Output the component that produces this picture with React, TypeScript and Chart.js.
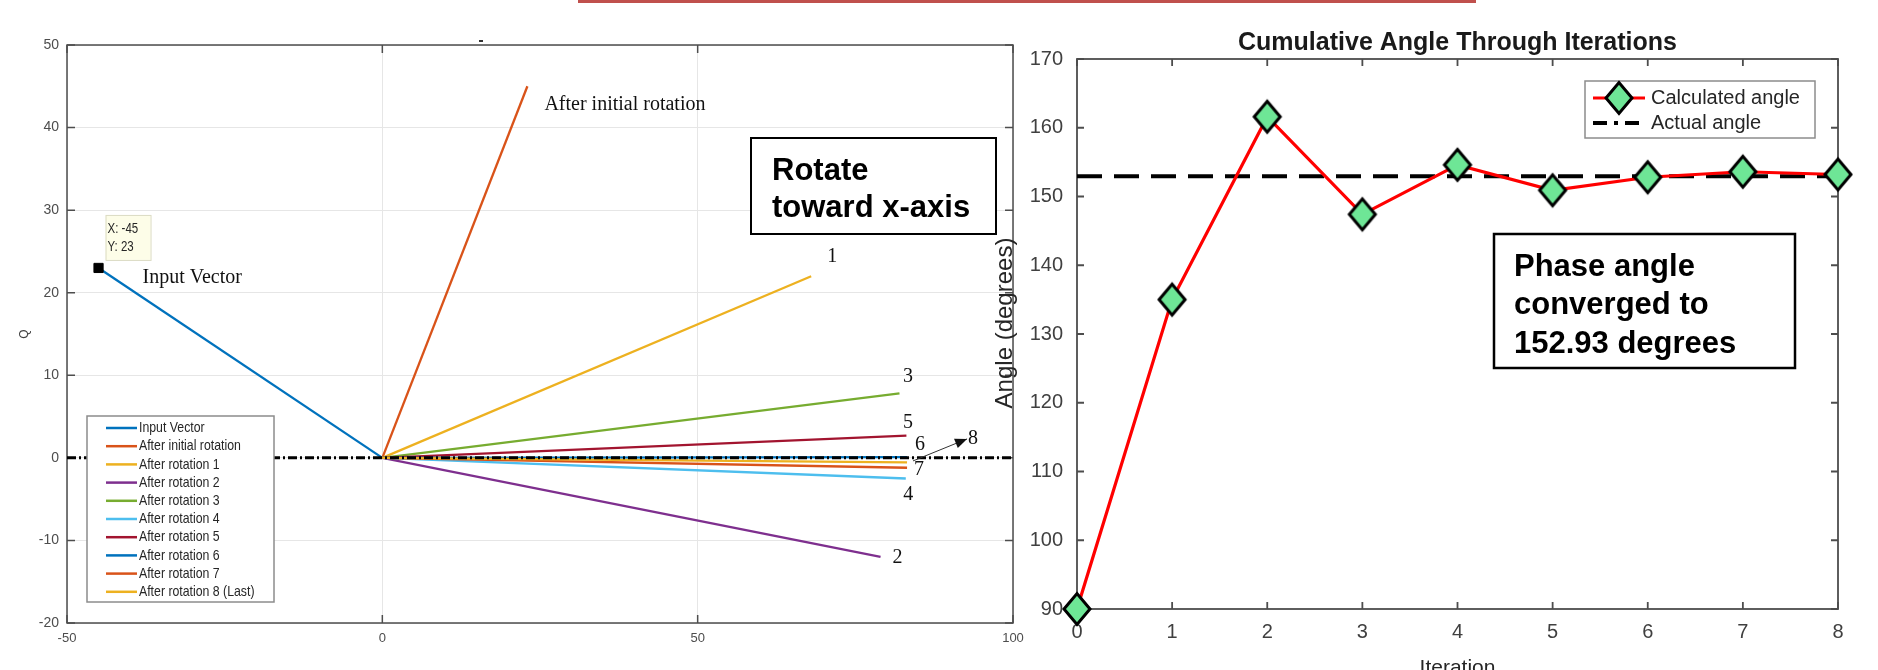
import React, { useEffect, useRef } from 'react';
import { Chart, registerables } from 'chart.js';

Chart.register(...registerables);

// ---------------- Left panel data (I/Q vectors) ----------------
const VECTOR_NAMES = [
  'Input Vector',
  'After initial rotation',
  'After rotation 1',
  'After rotation 2',
  'After rotation 3',
  'After rotation 4',
  'After rotation 5',
  'After rotation 6',
  'After rotation 7',
  'After rotation 8 (Last)',
];
const VECTOR_I = [-45, 23, 68, 79, 82, 83, 83.1, 83.2, 83.2, 83.2];
const VECTOR_Q = [23, 45, 22, -12, 7.8, -2.5, 2.7, 0.1, -1.2, -0.55];
const VECTOR_TAGS = ['Input Vector', 'After initial rotation', '1', '2', '3', '4', '5', '6', '7', '8'];
const I_TICKS = [-50, 0, 50, 100];
const Q_TICKS = [-20, -10, 0, 10, 20, 30, 40, 50];
const DATATIP_I = [-45];
const DATATIP_Q = [23];
const LEFT_NOTE = ['Rotate', 'toward x-axis'];

// ---------------- Right panel data (angle vs iteration) ----------------
const ITERATIONS = [0, 1, 2, 3, 4, 5, 6, 7, 8];
const CALCULATED_ANGLE = [90, 135, 161.6, 147.4, 154.6, 150.9, 152.8, 153.6, 153.2];
const ACTUAL_ANGLE = 152.93;
const ANGLE_TICKS = [90, 100, 110, 120, 130, 140, 150, 160, 170];
const RIGHT_TITLE = 'Cumulative Angle Through Iterations';
const RIGHT_Y_TITLE = 'Angle (degrees)';
const RIGHT_NOTE = ['Phase angle', 'converged to', `${ACTUAL_ANGLE.toFixed(2)} degrees`];

// ---------------- Styles ----------------
const SANS = "'Liberation Sans', Arial, sans-serif";
const SERIF = "'Liberation Serif', 'Times New Roman', serif";
const VECTOR_COLORS = ['#0072BD', '#D95319', '#EDB120', '#7E2F8E', '#77AC30', '#4DBEEE', '#A2142F', '#0072BD', '#D95319', '#EDB120'];
// [dx, dy, align] of each end tag relative to the vector end point (pixels)
const TAG_OFFSETS: [number, number, CanvasTextAlign][] = [
  [44, 10, 'left'],
  [17, 18, 'left'],
  [21, -19, 'center'],
  [17, 1, 'center'],
  [8.5, -17, 'center'],
  [2.5, 16.5, 'center'],
  [1.5, -13, 'center'],
  [13, -12, 'center'],
  [12, 2, 'center'],
  [66, -24, 'center'],
];
const DIAMOND_FILL = '#6EE696';

function makeDiamond(): HTMLCanvasElement {
  const c = document.createElement('canvas');
  c.width = 34;
  c.height = 38;
  const g = c.getContext('2d')!;
  const cx = 17, cy = 19, hw = 13, hh = 15.5;
  g.fillStyle = DIAMOND_FILL;
  g.strokeStyle = '#000';
  g.lineWidth = 3;
  g.lineJoin = 'miter';
  g.beginPath();
  g.moveTo(cx - hw, cy);
  g.lineTo(cx, cy - hh);
  g.lineTo(cx + hw, cy);
  g.lineTo(cx, cy + hh);
  g.closePath();
  g.fill();
  g.stroke();
  return c;
}

function squeezedText(ctx: CanvasRenderingContext2D, text: string, x: number, y: number, sx: number) {
  ctx.save();
  ctx.translate(x, y);
  ctx.scale(sx, 1);
  ctx.fillText(text, 0, 0);
  ctx.restore();
}

function framePlugin(id: string, tickLen: number, color: string, width: number) {
  return {
    id,
    beforeDatasetsDraw(chart: any) {
      const { ctx, chartArea: a, scales } = chart;
      ctx.save();
      ctx.strokeStyle = color;
      ctx.lineWidth = width;
      ctx.beginPath();
      scales.x.ticks.forEach((t: any) => {
        const p = scales.x.getPixelForValue(t.value);
        ctx.moveTo(p, a.bottom);
        ctx.lineTo(p, a.bottom - tickLen);
        ctx.moveTo(p, a.top);
        ctx.lineTo(p, a.top + tickLen);
      });
      scales.y.ticks.forEach((t: any) => {
        const p = scales.y.getPixelForValue(t.value);
        ctx.moveTo(a.left, p);
        ctx.lineTo(a.left + tickLen, p);
        ctx.moveTo(a.right, p);
        ctx.lineTo(a.right - tickLen, p);
      });
      ctx.stroke();
      ctx.strokeRect(a.left, a.top, a.right - a.left, a.bottom - a.top);
      ctx.restore();
    },
  };
}

const leftOverlay = {
  id: 'leftOverlay',
  afterDatasetsDraw(chart: any) {
    const { ctx, chartArea: a, scales } = chart;
    const sx = scales.x;
    const sy = scales.y;
    ctx.save();

    // tiny title remnant
    ctx.fillStyle = '#333';
    ctx.fillRect(479, 40, 4, 2);

    // end tags
    ctx.fillStyle = '#111';
    ctx.font = `20px ${SERIF}`;
    ctx.textBaseline = 'middle';
    VECTOR_TAGS.forEach((tag, i) => {
      const px = sx.getPixelForValue(VECTOR_I[i]);
      const py = sy.getPixelForValue(VECTOR_Q[i]);
      const [dx, dy, align] = TAG_OFFSETS[i];
      ctx.textAlign = align;
      ctx.fillText(tag, px + dx, py + dy);
    });

    // arrow pointing at tag 8
    {
      const last = VECTOR_I.length - 1;
      const px = sx.getPixelForValue(VECTOR_I[last]);
      const py = sy.getPixelForValue(VECTOR_Q[last]);
      const x0 = px + 6, y0 = py - 1.5, x1 = px + 60, y1 = py - 23.5;
      const ang = Math.atan2(y1 - y0, x1 - x0);
      ctx.strokeStyle = '#333';
      ctx.lineWidth = 1;
      ctx.beginPath();
      ctx.moveTo(x0, y0);
      ctx.lineTo(x1, y1);
      ctx.stroke();
      ctx.fillStyle = '#111';
      ctx.beginPath();
      ctx.moveTo(x1, y1);
      ctx.lineTo(x1 - 12 * Math.cos(ang) + 5 * Math.sin(ang), y1 - 12 * Math.sin(ang) - 5 * Math.cos(ang));
      ctx.lineTo(x1 - 12 * Math.cos(ang) - 5 * Math.sin(ang), y1 - 12 * Math.sin(ang) + 5 * Math.cos(ang));
      ctx.closePath();
      ctx.fill();
    }

    // data tip box
    {
      const px = sx.getPixelForValue(DATATIP_I[0]);
      const py = sy.getPixelForValue(DATATIP_Q[0]);
      const bx = px + 7, by = py - 53;
      ctx.fillStyle = '#fdfde8';
      ctx.fillRect(bx, by, 45, 45);
      ctx.strokeStyle = '#dcdcc4';
      ctx.lineWidth = 1;
      ctx.strokeRect(bx + 0.5, by + 0.5, 45, 45);
      ctx.fillStyle = '#262626';
      ctx.font = `14px ${SANS}`;
      ctx.textAlign = 'left';
      ctx.textBaseline = 'middle';
      squeezedText(ctx, `X: ${DATATIP_I[0]}`, bx + 2, by + 14, 0.82);
      squeezedText(ctx, `Y: ${DATATIP_Q[0]}`, bx + 2, by + 32, 0.82);
    }

    // legend
    {
      const bx = a.left + 20, by = a.bottom - 207, bw = 187, bh = 186;
      ctx.fillStyle = '#fff';
      ctx.fillRect(bx, by, bw, bh);
      ctx.strokeStyle = '#8c8c8c';
      ctx.lineWidth = 1.5;
      ctx.strokeRect(bx, by, bw, bh);
      ctx.font = `15px ${SANS}`;
      ctx.textAlign = 'left';
      ctx.textBaseline = 'middle';
      VECTOR_NAMES.forEach((name, i) => {
        const ey = by + 12 + i * 18.2;
        ctx.strokeStyle = VECTOR_COLORS[i];
        ctx.lineWidth = 2.5;
        ctx.beginPath();
        ctx.moveTo(bx + 19, ey);
        ctx.lineTo(bx + 50, ey);
        ctx.stroke();
        ctx.fillStyle = '#262626';
        squeezedText(ctx, name, bx + 52, ey, 0.82);
      });
    }

    // annotation box
    {
      ctx.fillStyle = '#fff';
      ctx.fillRect(751, 138, 245, 96);
      ctx.strokeStyle = '#000';
      ctx.lineWidth = 2;
      ctx.strokeRect(751, 138, 245, 96);
      ctx.fillStyle = '#000';
      ctx.font = `bold 31px ${SANS}`;
      ctx.textAlign = 'left';
      ctx.textBaseline = 'alphabetic';
      ctx.fillText(LEFT_NOTE[0], 772, 180);
      ctx.fillText(LEFT_NOTE[1], 772, 217);
    }
    ctx.restore();
  },
};

function rightOverlay(diamond: HTMLCanvasElement) {
  return {
    id: 'rightOverlay',
    afterDatasetsDraw(chart: any) {
      const { ctx, chartArea: a } = chart;
      ctx.save();
      // title
      ctx.fillStyle = '#1a1a1a';
      ctx.font = `bold 25px ${SANS}`;
      ctx.textAlign = 'center';
      ctx.textBaseline = 'middle';
      ctx.fillText(RIGHT_TITLE, (a.left + a.right) / 2, a.top - 16);

      // y-axis title
      ctx.save();
      ctx.translate(a.left - 72, 323);
      ctx.rotate(-Math.PI / 2);
      ctx.fillStyle = '#262626';
      ctx.font = `24px ${SANS}`;
      ctx.textAlign = 'center';
      ctx.textBaseline = 'middle';
      ctx.fillText(RIGHT_Y_TITLE, 0, 0);
      ctx.restore();

      // legend
      {
        const bx = a.right - 253, by = a.top + 22, bw = 230, bh = 57;
        ctx.fillStyle = '#fff';
        ctx.fillRect(bx, by, bw, bh);
        ctx.strokeStyle = '#8c8c8c';
        ctx.lineWidth = 1.5;
        ctx.strokeRect(bx, by, bw, bh);
        const y1 = by + 17, y2 = by + 42;
        ctx.strokeStyle = '#ff0000';
        ctx.lineWidth = 3;
        ctx.beginPath();
        ctx.moveTo(bx + 8, y1);
        ctx.lineTo(bx + 60, y1);
        ctx.stroke();
        const cx = bx + 34;
        ctx.drawImage(diamond, cx - diamond.width / 2, y1 - diamond.height / 2);
        ctx.strokeStyle = '#000';
        ctx.setLineDash([14, 7, 4, 7]);
        ctx.lineWidth = 4;
        ctx.beginPath();
        ctx.moveTo(bx + 8, y2);
        ctx.lineTo(bx + 60, y2);
        ctx.stroke();
        ctx.setLineDash([]);
        ctx.fillStyle = '#262626';
        ctx.font = `20px ${SANS}`;
        ctx.textAlign = 'left';
        ctx.textBaseline = 'middle';
        ctx.fillText(chart.data.datasets[0].label, bx + 66, y1);
        ctx.fillText(chart.data.datasets[1].label, bx + 66, y2);
      }

      // annotation box
      {
        const bx = a.left + 417, by = 234, bw = 301, bh = 134;
        ctx.fillStyle = '#fff';
        ctx.fillRect(bx, by, bw, bh);
        ctx.strokeStyle = '#000';
        ctx.lineWidth = 2.5;
        ctx.strokeRect(bx, by, bw, bh);
        ctx.fillStyle = '#000';
        ctx.font = `bold 31px ${SANS}`;
        ctx.textAlign = 'left';
        ctx.textBaseline = 'alphabetic';
        ctx.fillText(RIGHT_NOTE[0], bx + 20, by + 42);
        ctx.fillText(RIGHT_NOTE[1], bx + 20, by + 80);
        ctx.fillText(RIGHT_NOTE[2], bx + 20, by + 119);
      }
      ctx.restore();
    },
  };
}

function LeftChart() {
  const ref = useRef<HTMLCanvasElement>(null);
  useEffect(() => {
    if (!ref.current) return;
    const vectorSets = VECTOR_I.map((x, i) => ({
      label: VECTOR_NAMES[i],
      data: [{ x: 0, y: 0 }, { x, y: VECTOR_Q[i] }],
      showLine: true,
      borderColor: VECTOR_COLORS[i],
      backgroundColor: VECTOR_COLORS[i],
      borderWidth: 2.3,
      pointRadius: 0,
      order: 50 - i,
    }));
    const chart = new Chart(ref.current, {
      type: 'scatter',
      data: {
        datasets: [
          {
            label: 'datatip',
            data: DATATIP_I.map((x, i) => ({ x, y: DATATIP_Q[i] })),
            showLine: false,
            pointStyle: 'rect',
            pointRadius: 6.5,
            backgroundColor: '#000',
            borderColor: '#000',
            order: -1,
          } as any,
          {
            label: 'zero',
            data: [
              { x: I_TICKS[0], y: 0 },
              { x: I_TICKS[I_TICKS.length - 1], y: 0 },
            ],
            showLine: true,
            borderColor: '#000',
            borderWidth: 3,
            borderDash: [9, 3, 2, 3],
            pointRadius: 0,
            order: 0,
          },
          ...vectorSets,
        ],
      },
      options: {
        responsive: false,
        animation: false,
        events: [],
        layout: { padding: { top: 45, right: 27, left: 0, bottom: 0 } },
        plugins: { legend: { display: false }, tooltip: { enabled: false }, title: { display: false } },
        scales: {
          x: {
            type: 'linear',
            min: I_TICKS[0],
            max: I_TICKS[I_TICKS.length - 1],
            afterBuildTicks: (s: any) => {
              s.ticks = I_TICKS.map((v) => ({ value: v }));
            },
            afterFit: (s: any) => {
              s.height = 47;
            },
            grid: { color: '#e6e6e6', drawTicks: false, lineWidth: 1 },
            border: { display: false },
            ticks: { padding: 8, color: '#4d4d4d', font: { family: SANS, size: 13 }, maxRotation: 0, autoSkip: false },
          },
          y: {
            type: 'linear',
            min: Q_TICKS[0],
            max: Q_TICKS[Q_TICKS.length - 1],
            afterBuildTicks: (s: any) => {
              s.ticks = Q_TICKS.map((v) => ({ value: v }));
            },
            afterFit: (s: any) => {
              s.width = 67;
            },
            grid: { color: '#e6e6e6', drawTicks: false, lineWidth: 1 },
            border: { display: false },
            ticks: { padding: 8, color: '#4d4d4d', font: { family: SANS, size: 14 }, autoSkip: false },
            title: { display: true, text: 'Q', color: '#404040', font: { family: SANS, size: 12 }, padding: { top: 17, bottom: 0 } },
          },
        },
      } as any,
      plugins: [framePlugin('leftFrame', 8, '#4d4d4d', 1.5), leftOverlay],
    });
    return () => chart.destroy();
  }, []);
  return <canvas ref={ref} width={1040} height={670} style={{ position: 'absolute', left: 0, top: 0, width: 1040, height: 670 }} />;
}

function RightChart() {
  const ref = useRef<HTMLCanvasElement>(null);
  useEffect(() => {
    if (!ref.current) return;
    const diamond = makeDiamond();
    const chart = new Chart(ref.current, {
      type: 'scatter',
      data: {
        datasets: [
          {
            label: 'Calculated angle',
            data: ITERATIONS.map((x, i) => ({ x, y: CALCULATED_ANGLE[i] })),
            showLine: true,
            borderColor: '#ff0000',
            borderWidth: 3.2,
            pointStyle: diamond,
            pointRadius: 14,
            clip: false,
            order: 0,
          } as any,
          {
            label: 'Actual angle',
            data: ITERATIONS.map((x) => ({ x, y: ACTUAL_ANGLE })),
            showLine: true,
            borderColor: '#000',
            borderWidth: 4,
            borderDash: [25, 12],
            pointRadius: 0,
            order: 1,
          },
        ],
      },
      options: {
        responsive: false,
        animation: false,
        events: [],
        layout: { padding: { top: 59, right: 40, left: 0, bottom: 0 } },
        plugins: { legend: { display: false }, tooltip: { enabled: false }, title: { display: false } },
        scales: {
          x: {
            type: 'linear',
            min: ITERATIONS[0],
            max: ITERATIONS[ITERATIONS.length - 1],
            afterBuildTicks: (s: any) => {
              s.ticks = ITERATIONS.map((v) => ({ value: v }));
            },
            afterFit: (s: any) => {
              s.height = 91;
            },
            grid: { display: false, drawTicks: false },
            border: { display: false },
            ticks: { padding: 11, color: '#404040', font: { family: SANS, size: 20 }, maxRotation: 0, autoSkip: false },
            title: { display: true, text: 'Iteration', color: '#262626', font: { family: SANS, size: 21 }, padding: { top: 0, bottom: 19 } },
          },
          y: {
            type: 'linear',
            min: ANGLE_TICKS[0],
            max: ANGLE_TICKS[ANGLE_TICKS.length - 1],
            afterBuildTicks: (s: any) => {
              s.ticks = ANGLE_TICKS.map((v) => ({ value: v }));
            },
            afterFit: (s: any) => {
              s.width = 92;
            },
            grid: { display: false, drawTicks: false },
            border: { display: false },
            ticks: { padding: 14, color: '#404040', font: { family: SANS, size: 20 }, autoSkip: false },
          },
        },
      } as any,
      plugins: [framePlugin('rightFrame', 7, '#4d4d4d', 1.8), rightOverlay(diamond)],
    });
    return () => chart.destroy();
  }, []);
  return <canvas ref={ref} width={893} height={700} style={{ position: 'absolute', left: 985, top: 0, width: 893, height: 700 }} />;
}

export default function App() {
  return (
    <div style={{ position: 'fixed', left: 0, top: 0, width: 1878, height: 670, overflow: 'hidden', background: '#fff' }}>
      <div style={{ position: 'absolute', left: 578, top: 0, width: 898, height: 3, background: '#c0504d' }} />
      <LeftChart />
      <RightChart />
    </div>
  );
}
